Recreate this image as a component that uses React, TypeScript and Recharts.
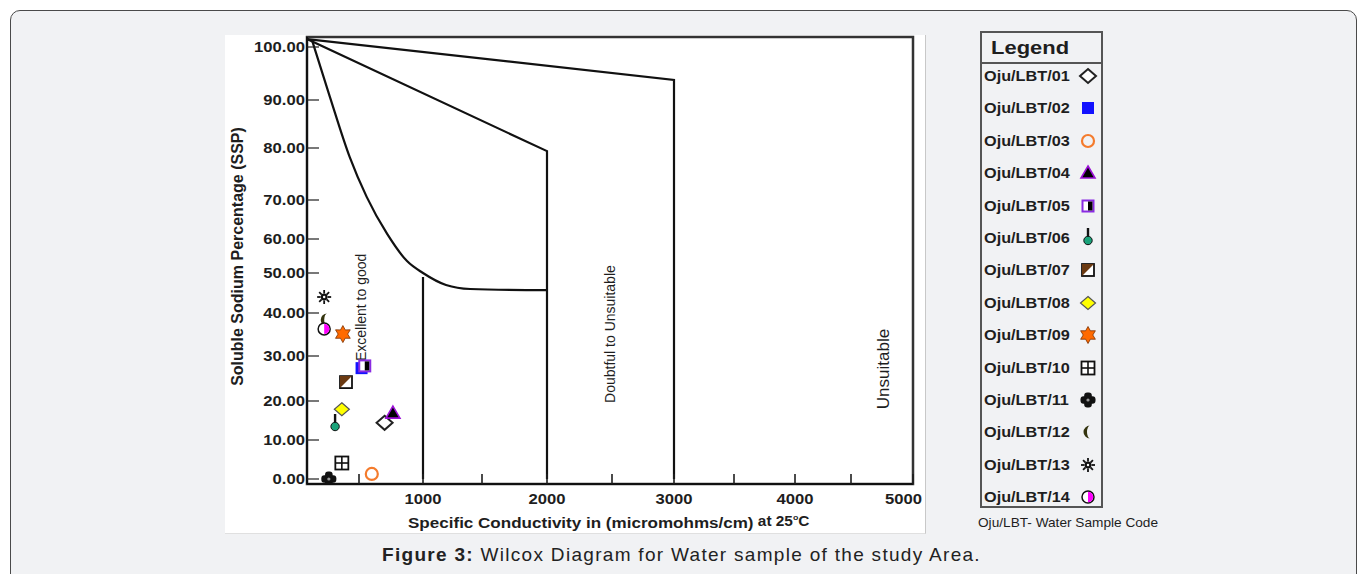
import React from "react";
import {
  ComposedChart,
  XAxis,
  YAxis,
  Scatter,
  Line,
  ReferenceArea,
  ReferenceDot,
  Legend,
} from "recharts";

// water samples
const sampleCodes = [
  "Oju/LBT/01", "Oju/LBT/02", "Oju/LBT/03", "Oju/LBT/04", "Oju/LBT/05",
  "Oju/LBT/06", "Oju/LBT/07", "Oju/LBT/08", "Oju/LBT/09", "Oju/LBT/10",
  "Oju/LBT/11", "Oju/LBT/12", "Oju/LBT/13", "Oju/LBT/14",
];
const conductivity = [700, 520, 600, 765, 545, 270, 375, 335, 345, 335, 210, 175, 165, 165];
const sodiumPct = [14.4, 27.3, 1.3, 16.9, 27.8, 14.1, 24.2, 17.9, 35.1, 4.1, 0.0, 38.4, 44.0, 36.3];

// Wilcox class boundaries
const curveX = [48, 220, 410, 560, 720, 875, 1000, 1195, 1400, 2000];
const curveY = [101.3, 90.6, 78.3, 70.6, 61.3, 53.5, 50.0, 47.0, 46.0, 45.7];
const line1000X = [1000, 1000];
const line1000Y = [49, 0];
const line2000X = [0, 2000, 2000];
const line2000Y = [101.5, 79.4, 0];
const line3000X = [0, 3000, 3000];
const line3000Y = [101.5, 93.8, 0];

// zone captions
const zoneNames = ["Excellent to good", "Doubtful to Unsuitable", "Unsuitable"];
const zoneX = [516, 2484, 4766];
const zoneY = [41.4, 35.1, 27.1];

// axis ticks
const yTicks = [0, 10, 20, 30, 40, 50, 60, 70, 80, 90, 100];
const xTicks = [500, 1000, 1500, 2000, 2500, 3000, 3500, 4000, 4500, 5000];

// the printed axes are hand drawn and uneven: calibration points
const yCalValues = [-1.3, 0, 10, 20, 30, 40, 50, 60, 70, 80, 90, 100, 101.9];
const yCalMarks = [484, 479, 440, 401, 356, 313, 273, 239, 200, 148, 100, 47, 37];
const xCalValues = [0, 500, 1000, 1500, 2000, 2500, 3000, 3500, 4000, 4500, 5000];
const xCalMarks = [307, 359, 423, 482, 547, 612, 674, 734, 795, 851, 913];

const toXY = (xs: number[], ys: number[]) => xs.map((x, i) => ({ x, y: ys[i] }));

function calibratedScale(values: number[], shares: number[]): any {
  let dom = [values[0], values[values.length - 1]];
  let rng = [0, 1];
  const share = (v: number) => {
    let i = 1;
    while (i < values.length - 1 && v > values[i]) i++;
    const t = (v - values[i - 1]) / (values[i] - values[i - 1]);
    return shares[i - 1] + t * (shares[i] - shares[i - 1]);
  };
  const scale: any = (v: number) => rng[0] + share(v) * (rng[1] - rng[0]);
  scale.domain = (d?: number[]) => {
    if (d === undefined) return dom;
    dom = d.slice();
    return scale;
  };
  scale.range = (r?: number[]) => {
    if (r === undefined) return rng;
    rng = r.slice();
    return scale;
  };
  scale.ticks = () => values.slice();
  scale.tickFormat = () => (v: number) => String(v);
  scale.invert = (px: number) => {
    const s = (px - rng[0]) / (rng[1] - rng[0]);
    let i = 1;
    while (i < shares.length - 1 && s > shares[i]) i++;
    const t = (s - shares[i - 1]) / (shares[i] - shares[i - 1]);
    return values[i - 1] + t * (values[i] - values[i - 1]);
  };
  scale.copy = () => calibratedScale(values, shares).domain(dom).range(rng);
  return scale;
}

const yShares = yCalMarks.map((p) => (yCalMarks[0] - p) / (yCalMarks[0] - yCalMarks[yCalMarks.length - 1]));
const xShares = xCalMarks.map((p) => (p - xCalMarks[0]) / (xCalMarks[xCalMarks.length - 1] - xCalMarks[0]));
const yScale = calibratedScale(yCalValues, yShares);
const xScale = calibratedScale(xCalValues, xShares);

const FONT = "'Liberation Sans', Arial, sans-serif";
const INK = "#1e1e1e";

function SampleSymbol({ kind, cx, cy }: { kind: number; cx: number; cy: number }) {
  switch (kind) {
    case 0:
      return <polygon points={`${cx},${cy - 7} ${cx + 8},${cy} ${cx},${cy + 7} ${cx - 8},${cy}`} fill="#fff" stroke="#222" strokeWidth={2} />;
    case 1:
      return <rect x={cx - 6} y={cy - 6} width={12} height={12} fill="#1212ff" />;
    case 2:
      return <circle cx={cx} cy={cy} r={6} fill="none" stroke="#f47b2c" strokeWidth={2.2} />;
    case 3:
      return <polygon points={`${cx},${cy - 7} ${cx + 7},${cy + 5} ${cx - 7},${cy + 5}`} fill="#000" stroke="#9b10d6" strokeWidth={1.6} />;
    case 4:
      return (
        <g>
          <rect x={cx - 5.5} y={cy - 5.5} width={11} height={11} fill="#fff" stroke="#8a2be2" strokeWidth={2} />
          <rect x={cx} y={cy - 4.5} width={4.5} height={9} fill="#000" />
        </g>
      );
    case 5:
      return (
        <g>
          <line x1={cx} y1={cy - 10} x2={cx} y2={cy - 1} stroke="#111" strokeWidth={2.4} />
          <circle cx={cx} cy={cy + 2.5} r={4.2} fill="#1aa37a" stroke="#111" strokeWidth={1} />
        </g>
      );
    case 6:
      return (
        <g>
          <rect x={cx - 6} y={cy - 6} width={12} height={12} fill="#fff" stroke="#111" strokeWidth={1.8} />
          <polygon points={`${cx - 6},${cy - 6} ${cx + 6},${cy - 6} ${cx - 6},${cy + 6}`} fill="#6b3a12" />
        </g>
      );
    case 7:
      return <polygon points={`${cx},${cy - 6.5} ${cx + 7.5},${cy} ${cx},${cy + 6.5} ${cx - 7.5},${cy}`} fill="#ffff00" stroke="#555" strokeWidth={1.2} />;
    case 8: {
      const pts: string[] = [];
      for (let k = 0; k < 12; k++) {
        const a = (-90 + k * 30) * (Math.PI / 180);
        const r = k % 2 === 0 ? 8.5 : 4.8;
        pts.push(`${cx + r * Math.cos(a)},${cy + r * Math.sin(a)}`);
      }
      return <polygon points={pts.join(" ")} fill="#ff6a00" stroke="#7a3000" strokeWidth={0.8} />;
    }
    case 9:
      return (
        <g>
          <rect x={cx - 6.5} y={cy - 6.5} width={13} height={13} fill="#fff" stroke="#111" strokeWidth={1.8} />
          <line x1={cx} y1={cy - 6.5} x2={cx} y2={cy + 6.5} stroke="#111" strokeWidth={1.6} />
          <line x1={cx - 6.5} y1={cy} x2={cx + 6.5} y2={cy} stroke="#111" strokeWidth={1.6} />
        </g>
      );
    case 10:
      return (
        <g>
          <rect x={cx - 7.5} y={cy - 3.8} width={15} height={7.6} rx={3} fill="#111" />
          <rect x={cx - 3.8} y={cy - 7.5} width={7.6} height={15} rx={3} fill="#111" />
          <circle cx={cx} cy={cy} r={1.6} fill="#999" />
        </g>
      );
    case 11:
      return <path d={`M${cx + 2},${cy - 6.5} A6.5,6.5 0 0,0 ${cx + 2},${cy + 6.5} A3,6.5 0 0,1 ${cx + 2},${cy - 6.5} Z`} fill="#34340e" />;
    case 12: {
      const rays = [];
      for (let k = 0; k < 8; k++) {
        const a = (k * 45 * Math.PI) / 180;
        rays.push(
          <line key={k} x1={cx + 3.5 * Math.cos(a)} y1={cy + 3.5 * Math.sin(a)} x2={cx + 7 * Math.cos(a)} y2={cy + 7 * Math.sin(a)} stroke="#111" strokeWidth={1.8} />
        );
      }
      return (
        <g>
          {rays}
          <circle cx={cx} cy={cy} r={3.4} fill="#111" />
          <circle cx={cx} cy={cy} r={1.2} fill="#fff" />
        </g>
      );
    }
    default:
      return (
        <g>
          <circle cx={cx} cy={cy} r={6} fill="#fff" stroke="#111" strokeWidth={1.5} />
          <path d={`M${cx},${cy - 5.2} A5.2,5.2 0 0,1 ${cx},${cy + 5.2} Z`} fill="#ff00ff" />
        </g>
      );
  }
}

const sampleData = sampleCodes.map((code, i) => ({ code, kind: i, x: conductivity[i], y: sodiumPct[i] }));
const zoneData = zoneNames.map((name, i) => ({ name, x: zoneX[i], y: zoneY[i] }));

function YTick({ x, y, payload }: any) {
  return (
    <g>
      <line x1={x} x2={x + 12} y1={y} y2={y} stroke={INK} strokeWidth={1.2} />
      <text transform={`translate(${x - 2},${y + 5}) scale(1.19,1)`} textAnchor="end" fontSize={14} fontWeight="bold" fill={INK} fontFamily={FONT}>
        {Number(payload.value).toFixed(2)}
      </text>
    </g>
  );
}

function XTick({ x, y, payload }: any) {
  const v = Number(payload.value);
  const last = v === xTicks[xTicks.length - 1];
  return (
    <g>
      <line x1={x} x2={x} y1={y} y2={y - 10} stroke={INK} strokeWidth={1.6} />
      {v % 1000 === 0 && (
        <text
          transform={`translate(${last ? x + 9 : x},${y + 19.5}) scale(1.19,1)`}
          textAnchor={last ? "end" : "middle"}
          fontSize={14}
          fontWeight="bold"
          fill={INK}
          fontFamily={FONT}
        >
          {v}
        </text>
      )}
    </g>
  );
}

function YTitle({ viewBox }: any) {
  const cx = viewBox.x + 12;
  const cy = viewBox.y + viewBox.height / 2 - 4;
  return (
    <text transform={`translate(${cx},${cy}) rotate(-90)`} textAnchor="middle" dominantBaseline="central" fontSize={16} fontWeight="bold" fill={INK} fontFamily={FONT}>
      Soluble Sodium Percentage (SSP)
    </text>
  );
}

function XTitle({ viewBox }: any) {
  return (
    <text transform={`translate(${viewBox.x + 101},${viewBox.y + 44}) scale(1.1,1)`} fontSize={15.5} fontWeight="bold" fill={INK} fontFamily={FONT}>
      Specific Conductivity in (micromohms/cm)
      <tspan fontSize={14} dy={-2}> at 25</tspan>
      <tspan fontSize={8} dy={-6}>o</tspan>
      <tspan fontSize={14} dy={6}>C</tspan>
    </text>
  );
}

function ZoneCaption({ cx, cy, payload }: any) {
  const big = payload.name === "Unsuitable";
  return (
    <text transform={`translate(${cx},${cy}) rotate(-90)`} textAnchor="middle" dominantBaseline="central" fontSize={big ? 17 : 14} fill={INK} fontFamily={FONT}>
      {payload.name}
    </text>
  );
}

function LegendPanel() {
  const rowTop = 43;
  const rowStep = 32.4;
  return (
    <div style={{ position: "relative", width: 190, height: 500, fontFamily: FONT, color: INK }}>
      <div style={{ position: "absolute", left: 0, top: 0, width: 123, height: 477, border: "2px solid #555", boxSizing: "border-box" }}>
        <div style={{ height: 31, borderBottom: "2px solid #555", boxSizing: "border-box", position: "relative" }}>
          <div style={{ position: "absolute", left: 9, top: 4, fontSize: 18, fontWeight: "bold", transform: "scaleX(1.22)", transformOrigin: "left center", lineHeight: "22px" }}>
            Legend
          </div>
        </div>
        {sampleCodes.map((code, i) => {
          const cy = rowTop + i * rowStep;
          return (
            <React.Fragment key={code}>
              <div style={{ position: "absolute", left: 2, top: cy - 10, fontSize: 14, fontWeight: "bold", lineHeight: "20px", transform: "scaleX(1.16)", transformOrigin: "left center", whiteSpace: "nowrap" }}>
                {code}
              </div>
              <svg width={22} height={24} style={{ position: "absolute", left: 95, top: cy - 12 }}>
                <SampleSymbol kind={i} cx={11} cy={12} />
              </svg>
            </React.Fragment>
          );
        })}
      </div>
      <div style={{ position: "absolute", left: -2, top: 484, fontSize: 13, lineHeight: "16px", whiteSpace: "nowrap", transform: "scaleX(1.05)", transformOrigin: "left center" }}>
        Oju/LBT- Water Sample Code
      </div>
    </div>
  );
}

export default function App() {
  const yMin = yCalValues[0];
  const yMax = yCalValues[yCalValues.length - 1];
  return (
    <div style={{ position: "fixed", left: 0, top: 0, width: 1363, height: 574, background: "#fff", overflow: "hidden" }}>
      <div style={{ position: "absolute", left: 10, top: 10, width: 1347, height: 620, border: "1px solid #4a4a4a", borderRadius: 10, background: "#f1f2f4", boxSizing: "border-box" }} />
      <div style={{ position: "absolute", left: 225, top: 35, width: 700, height: 498, background: "#fff", borderRight: "1px solid #c8c8c8", borderBottom: "1px solid #e0e0e0" }}>
        <ComposedChart width={700} height={498} margin={{ top: 2, right: 12, bottom: 0, left: 0 }}>
          <XAxis
            type="number"
            dataKey="x"
            scale={xScale}
            domain={[0, 5000]}
            allowDataOverflow
            ticks={xTicks}
            interval={0}
            tick={<XTick />}
            tickLine={false}
            tickSize={0}
            tickMargin={0}
            height={49}
            axisLine={{ stroke: "#111", strokeWidth: 2 }}
            label={<XTitle />}
          />
          <YAxis
            type="number"
            dataKey="y"
            scale={yScale}
            domain={[yMin, yMax]}
            allowDataOverflow
            ticks={yTicks}
            interval={0}
            tick={<YTick />}
            tickLine={false}
            tickSize={0}
            tickMargin={0}
            width={82}
            axisLine={{ stroke: "#111", strokeWidth: 2 }}
            label={<YTitle />}
          />
          <ReferenceArea x1={0} x2={5000} y1={yMin} y2={yMax} fill="none" stroke="#333" strokeWidth={2.5} ifOverflow="visible" />
          <Line data={toXY(curveX, curveY)} dataKey="y" type="monotone" stroke="#111" strokeWidth={2.2} dot={false} legendType="none" isAnimationActive={false} />
          <Line data={toXY(line1000X, line1000Y)} dataKey="y" type="linear" stroke="#111" strokeWidth={2.2} dot={false} legendType="none" isAnimationActive={false} />
          <Line data={toXY(line2000X, line2000Y)} dataKey="y" type="linear" stroke="#111" strokeWidth={2.2} dot={false} legendType="none" isAnimationActive={false} />
          <Line data={toXY(line3000X, line3000Y)} dataKey="y" type="linear" stroke="#111" strokeWidth={2.2} dot={false} legendType="none" isAnimationActive={false} />
          {zoneData.map((z) => (
            <ReferenceDot key={z.name} x={z.x} y={z.y} ifOverflow="visible" shape={(p: any) => <ZoneCaption cx={p.cx} cy={p.cy} payload={z} />} />
          ))}
          <Scatter
            data={sampleData}
            dataKey="y"
            name="Samples"
            legendType="none"
            isAnimationActive={false}
            shape={(p: any) => <SampleSymbol kind={p.payload.kind} cx={p.cx} cy={p.cy} />}
          />
          <Legend
            layout="vertical"
            align="center"
            verticalAlign="middle"
            content={() => <LegendPanel />}
            wrapperStyle={{ position: "absolute", left: 755, top: -4, width: 190, height: 500 }}
          />
        </ComposedChart>
      </div>
      <div style={{ position: "absolute", left: 0, top: 544, width: 1363, textAlign: "center", fontSize: 19, letterSpacing: 1.3, fontFamily: FONT, color: "#222", lineHeight: "22px" }}>
        <b>Figure 3:</b> Wilcox Diagram for Water sample of the study Area.
      </div>
    </div>
  );
}
